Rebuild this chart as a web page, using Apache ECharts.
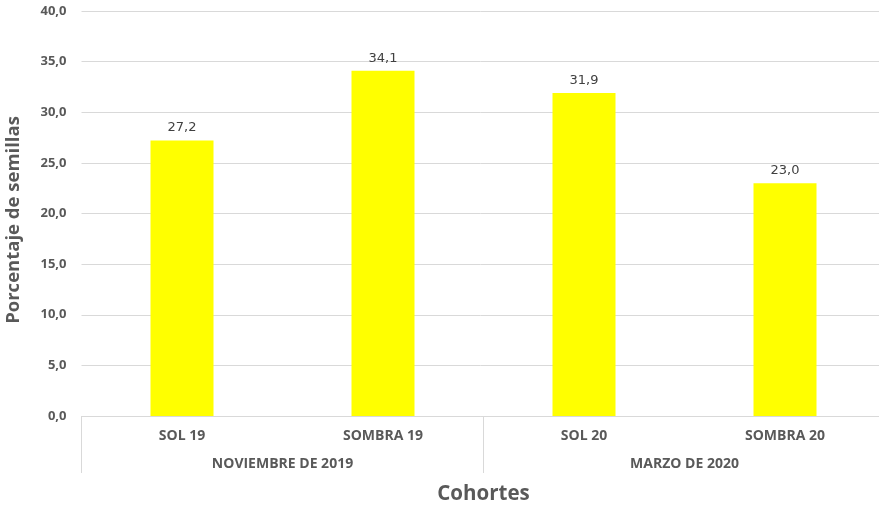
<!DOCTYPE html>
<html>
<head>
<meta charset="utf-8">
<script src="https://cdn.jsdelivr.net/npm/echarts@6/dist/echarts.min.js"></script>
<style>
  html, body { margin: 0; padding: 0; background: #ffffff; }
  #chart { width: 879px; height: 507px; }
</style>
</head>
<body>
<div id="chart"></div>
<script>
// Cohort categories and their season groups
const cohorts = ['SOL 19', 'SOMBRA 19', 'SOL 20', 'SOMBRA 20'];
const groups = ['NOVIEMBRE DE 2019', 'MARZO DE 2020'];
// Seed percentage per cohort
const seedPercent = [27.2, 34.1, 31.9, 23.0];
// Value axis range
const yMin = 0, yMax = 40, yStep = 5;

const fmt = v => v.toFixed(1).replace('.', ',');
const labelColor = '#595959';
const lineColor = '#d9d9d9';

const chart = echarts.init(document.getElementById('chart'));
chart.setOption({
  animation: false,
  grid: {
    left: 81.5, width: 804, top: 11, bottom: 91,
    containLabel: false, outerBoundsMode: 'none'
  },
  xAxis: [
    {
      type: 'category',
      data: cohorts,
      position: 'bottom',
      axisLine: { lineStyle: { color: lineColor, width: 1 } },
      axisTick: { show: false },
      axisLabel: {
        color: labelColor, fontFamily: 'Open Sans', fontWeight: 'bold',
        fontSize: 14, margin: 13
      }
    },
    {
      type: 'category',
      data: groups,
      position: 'bottom',
      axisLine: { show: false },
      axisTick: { show: true, length: 57, lineStyle: { color: lineColor, width: 1 } },
      axisLabel: {
        color: labelColor, fontFamily: 'Open Sans', fontWeight: 'bold',
        fontSize: 14, margin: 41
      },
      name: 'Cohortes',
      nameLocation: 'middle',
      nameGap: 68,
      nameTextStyle: {
        color: labelColor, fontFamily: 'Open Sans', fontWeight: 'bold', fontSize: 20.5
      }
    }
  ],
  yAxis: {
    type: 'value',
    min: yMin, max: yMax, interval: yStep,
    name: 'Porcentaje de semillas',
    nameLocation: 'middle',
    nameGap: 58,
    nameTextStyle: {
      color: labelColor, fontFamily: 'Open Sans', fontWeight: 'bold', fontSize: 18.5,
      padding: [0, 13, 0, 0]
    },
    axisLine: { show: false },
    axisTick: { show: false },
    splitLine: { lineStyle: { color: lineColor, width: 1 } },
    axisLabel: {
      color: labelColor, fontFamily: 'Open Sans', fontWeight: 'bold',
      fontSize: 13, margin: 15, formatter: v => fmt(v)
    }
  },
  series: [{
    type: 'bar',
    xAxisIndex: 0,
    data: seedPercent,
    barWidth: 63,
    itemStyle: { color: '#ffff00' },
    label: {
      show: true, position: 'top', distance: 6,
      color: '#404040', fontFamily: 'DejaVu Sans', fontSize: 13,
      formatter: p => fmt(p.value)
    }
  }]
});
</script>
</body>
</html>
